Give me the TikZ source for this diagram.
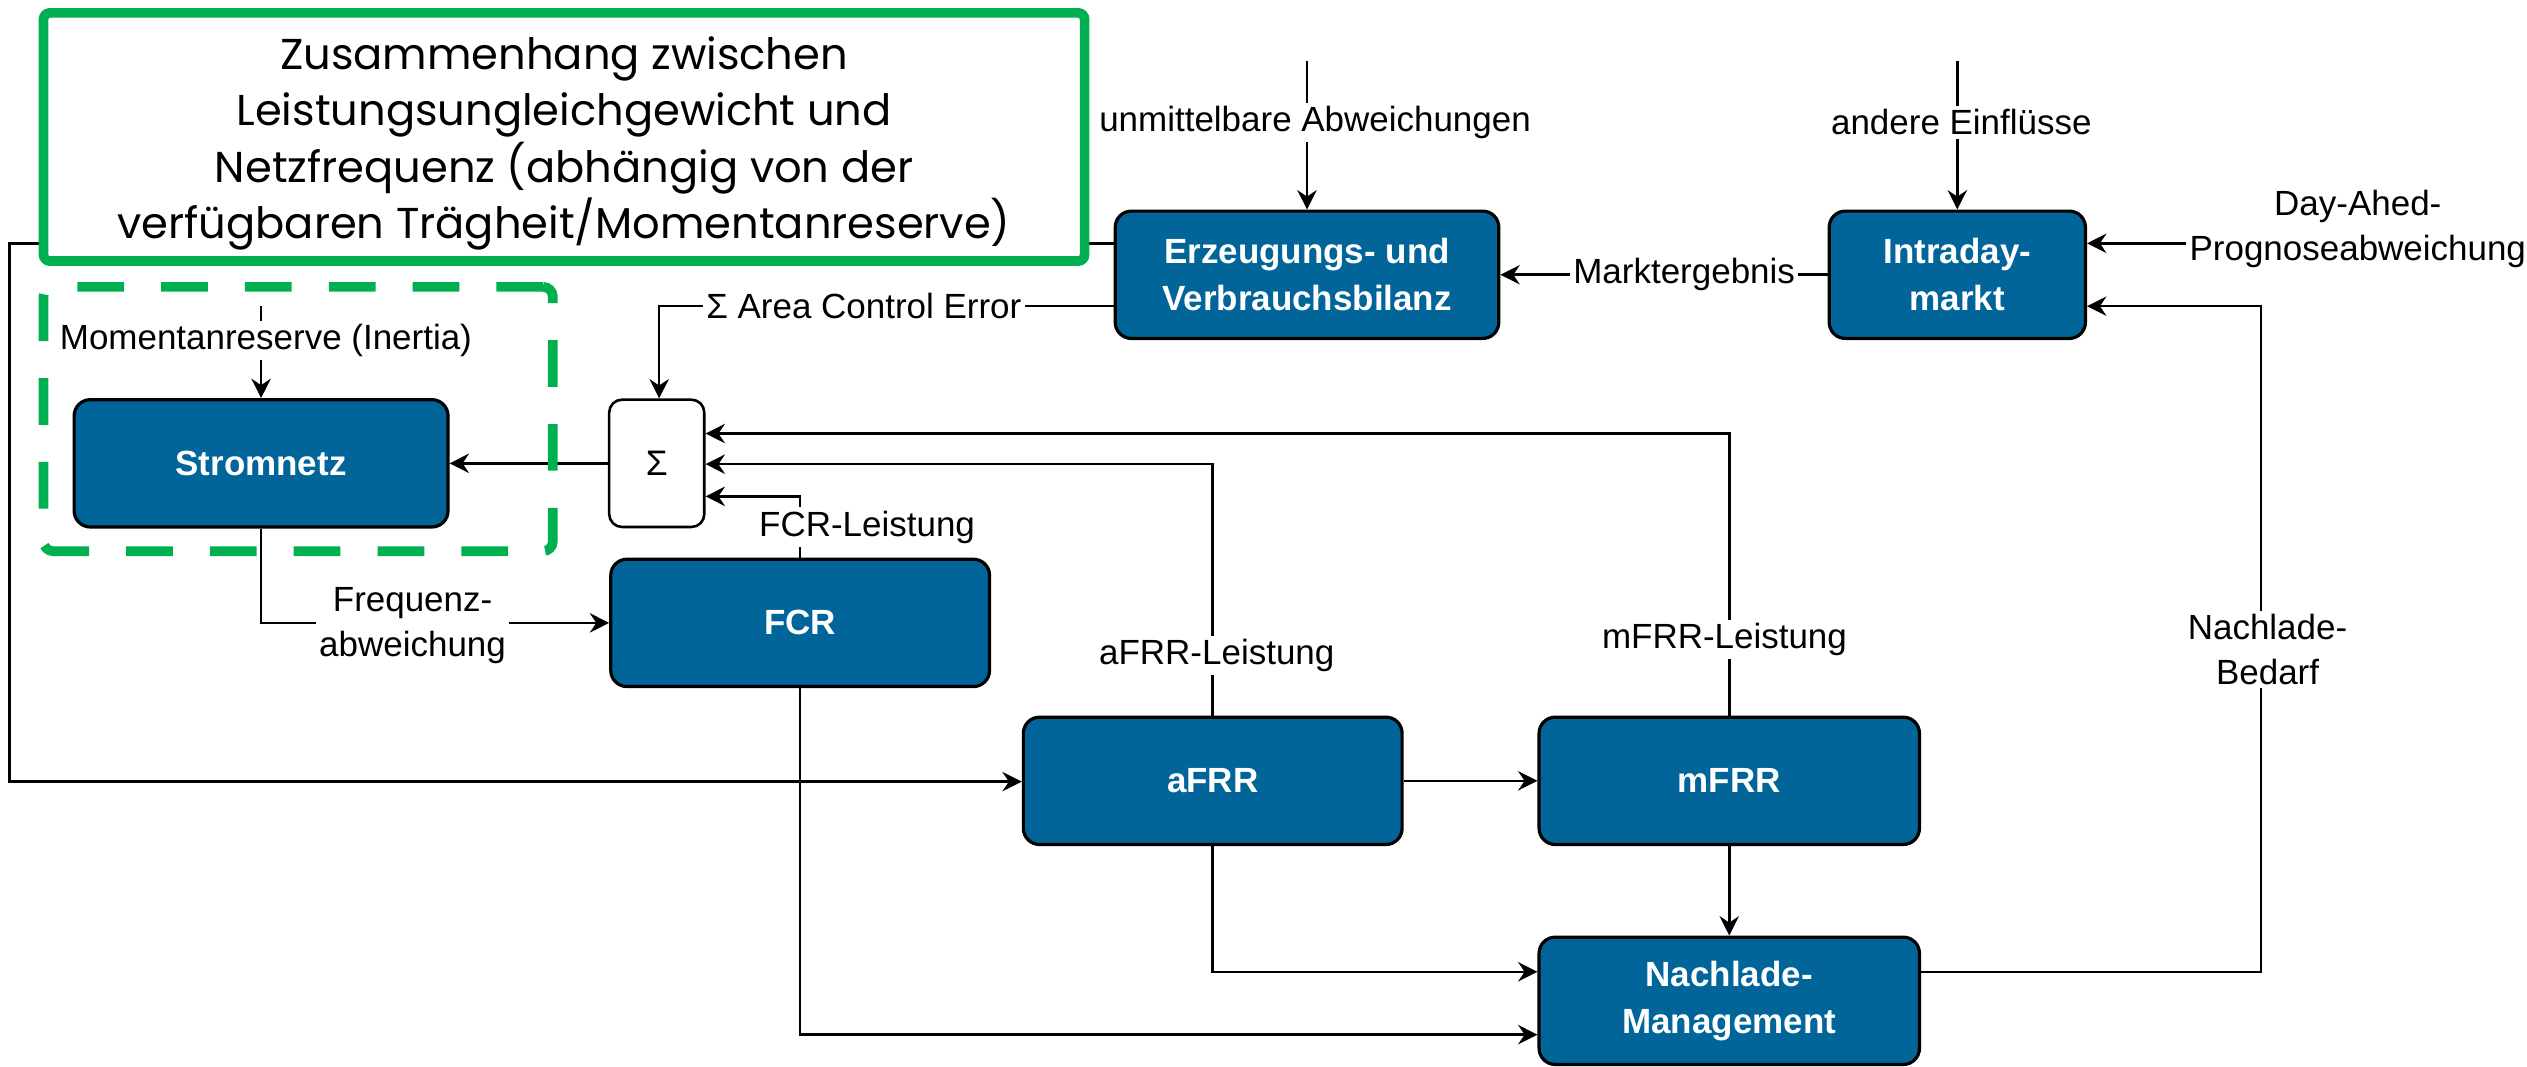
\documentclass[tikz,border=0pt]{standalone}
\usepackage{fontspec}
\setmainfont{Liberation Sans}
\newfontfamily\gothic{Poppins}
\usetikzlibrary{arrows.meta}
\definecolor{boxblue}{HTML}{02659A}
\definecolor{mygreen}{HTML}{00B050}
\begin{document}
\begin{tikzpicture}[x=0.5pt,y=-0.5pt,
  blk/.style={draw=black,line width=1pt,fill=boxblue,rounded corners=5pt,text=white,
    font=\bfseries\fontsize{10.85}{14.5}\selectfont,align=center,inner sep=0pt,minimum height=39.5pt},
  lbl/.style={fill=white,inner sep=1pt,font=\fontsize{10.85}{14}\selectfont,align=center},
  con/.style={line width=0.8pt,draw=black},
  arr/.style={con,-{Stealth[length=6pt,width=6pt,inset=2pt]}},
]
\useasboundingbox (0,0) rectangle (1568,662);

% blocks
\node[blk,minimum width=116pt] (strom) at (162,287.5) {Stromnetz};
\node[draw=black,line width=0.8pt,fill=white,rounded corners=4pt,minimum width=29.5pt,
  minimum height=39.5pt,inner sep=0pt,font=\fontsize{11}{13}\selectfont] (sig) at (407.5,287.5) {Σ};
\node[blk,minimum width=119pt] (erz) at (811,170.5) {Erzeugungs- und\\Verbrauchsbilanz};
\node[blk,minimum width=79.5pt] (intra) at (1214.5,170.5) {Intraday-\\markt};
\node[blk,minimum width=117.5pt] (fcr) at (496.5,386.5) {FCR};
\node[blk,minimum width=117.5pt] (afrr) at (752.5,484.5) {aFRR};
\node[blk,minimum width=118pt] (mfrr) at (1073,484.5) {mFRR};
\node[blk,minimum width=118pt] (nach) at (1073,621) {Nachlade-\\Management};

% coordinates
\coordinate (u0) at (811,38);
\coordinate (e0) at (1214.5,38);
\coordinate (da0) at (1359,151);
\coordinate (nb1) at (1403,603);
\coordinate (nb2) at (1403,190);
\coordinate (m1) at (1073,269);
\coordinate (a1) at (752.5,288);
\coordinate (f1) at (496.5,308);
\coordinate (c1) at (409,190);
\coordinate (L1) at (6,151);
\coordinate (L2) at (6,485);
\coordinate (mo) at (162,190);
\coordinate (fq) at (162,386.5);
\coordinate (a2) at (752.5,603);
\coordinate (f2) at (496.5,642);

% big loop (behind green box)
\draw[arr] (erz.west |- L1) -- (L1) -- (L2) -- (afrr.west |- L2);

% connectors
\draw[arr] (u0) -- (erz.north);
\node[lbl] (lu) at (816,76) {unmittelbare Abweichungen};
\draw[arr] (e0) -- (intra.north);
\node[lbl] (le) at (1217,76) {andere Einflüsse};
\draw[arr] (intra.west) -- (erz.east);
\node[lbl] (lm) at (1045,170.5) {Marktergebnis};
\draw[arr] (da0) -- (intra.east |- da0);
\node[lbl] (lda) at (1463,142) {Day-Ahed-\\Prognoseabweichung};
\draw[arr] (nach.east |- nb1) -- (nb1) -- (nb2) -- (intra.east |- nb2);
\node[lbl] (lnb) at (1407,403) {Nachlade-\\Bedarf};
\draw[arr] (mfrr.north) -- (m1) -- (sig.east |- m1);
\node[lbl] (lmf) at (1070,397) {mFRR-Leistung};
\draw[arr] (afrr.north) -- (a1) -- (sig.east |- a1);
\node[lbl] (laf) at (755,407) {aFRR-Leistung};
\draw[arr] (fcr.north) -- (f1) -- (sig.east |- f1);
\node[lbl] (lfc) at (538,327) {FCR-Leistung};
\draw[arr] (sig.west) -- (strom.east);
\draw[arr] (erz.west |- c1) -- (c1) -- (c1 |- sig.north);
\node[lbl] (lace) at (536,190) {Σ Area Control Error};
\draw[arr] (mo) -- (strom.north);
\node[lbl] (lmo) at (165,211) {Momentanreserve (Inertia)};
\draw[arr] (strom.south) -- (fq) -- (fcr.west);
\node[lbl] (lfq) at (256,388) {Frequenz-\\abweichung};
\draw[arr] (afrr.east) -- (mfrr.west);
\draw[arr] (mfrr.south) -- (nach.north);
\draw[arr] (afrr.south) -- (a2) -- (nach.west |- a2);
\draw[arr] (fcr.south) -- (f2) -- (nach.west |- f2);

% green boxes
\node[draw=mygreen,line width=3pt,fill=white,rounded corners=2pt,minimum width=323pt,
  minimum height=77pt,inner sep=0pt] (gbox) at (350,85) {};
\node[align=center,inner sep=0pt,font=\gothic\fontsize{13.4}{17.5}\selectfont]
  (gtext) at (350,89) {Zusammenhang zwischen\\Leistungsungleichgewicht und\\Netzfrequenz (abhängig von der\\verfügbaren Trägheit/Momentanreserve)};
\node[draw=mygreen,line width=3pt,dash pattern=on 14.5pt off 11.5pt,rounded corners=3pt,
  minimum width=158pt,minimum height=82pt,inner sep=0pt] (dbox) at (185,260) {};
\end{tikzpicture}
\end{document}
